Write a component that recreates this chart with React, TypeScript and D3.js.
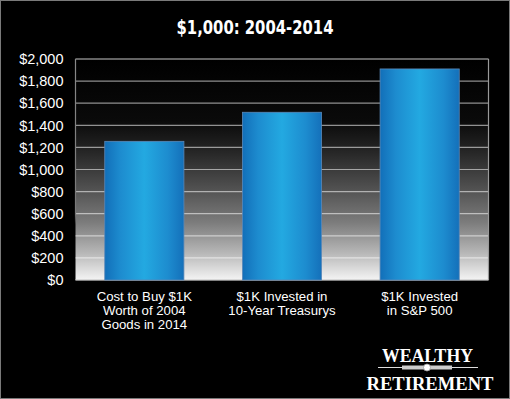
import React from "react";
import * as d3 from "d3";

const categories = [
  ["Cost to Buy $1K", "Worth of 2004", "Goods in 2014"],
  ["$1K Invested in", "10-Year Treasurys"],
  ["$1K Invested", "in S&P 500"],
];
const values = [1255, 1518, 1910];
const yTicks = [0, 200, 400, 600, 800, 1000, 1200, 1400, 1600, 1800, 2000];
const title = "$1,000: 2004-2014";

const W = 510;
const H = 399;
const M = { left: 75.5, right: 21.5, top: 59, bottom: 119 };

export default function App() {
  const x = d3
    .scaleBand<number>()
    .domain(d3.range(values.length))
    .range([M.left, W - M.right])
    .paddingInner(0.425)
    .paddingOuter(0.2125);
  const y = d3.scaleLinear().domain([0, 2000]).range([H - M.bottom, M.top]);
  const fmt = (v: number) => "$" + d3.format(",")(v);
  const pw = W - M.left - M.right;
  const ph = H - M.top - M.bottom;

  return (
    <svg
      width={W}
      height={H}
      style={{ position: "absolute", left: 0, top: 0, display: "block" }}
    >
      <defs>
        <linearGradient id="bg" x1="0" y1="0" x2="0" y2="1">
          <stop offset="0" stopColor="#000" />
          <stop offset="0.28" stopColor="#0a0a0a" />
          <stop offset="0.42" stopColor="#262626" />
          <stop offset="0.58" stopColor="#4f4f4f" />
          <stop offset="0.74" stopColor="#7c7c7c" />
          <stop offset="0.88" stopColor="#b8b8b8" />
          <stop offset="1" stopColor="#f4f4f4" />
        </linearGradient>
        <linearGradient id="bar" x1="0" y1="0" x2="1" y2="0">
          <stop offset="0" stopColor="#126fb9" />
          <stop offset="0.2" stopColor="#1d8ccf" />
          <stop offset="0.5" stopColor="#23a9e1" />
          <stop offset="0.8" stopColor="#1d8ccf" />
          <stop offset="1" stopColor="#1470ba" />
        </linearGradient>
        <linearGradient id="leftline" x1="0" y1="0" x2="0" y2="1">
          <stop offset="0" stopColor="#888" />
          <stop offset="0.7" stopColor="#777" stopOpacity="1" />
          <stop offset="0.75" stopColor="#777" stopOpacity="0" />
        </linearGradient>
      </defs>
      <rect x={0} y={0} width={W} height={H} fill="#000" />
      <rect x={0.5} y={0.5} width={W - 1} height={H - 1} fill="none" stroke="#7a7a7a" />

      <text
        x={W / 2}
        y={34}
        textAnchor="middle"
        fill="#fff"
        fontFamily="'DejaVu Sans Condensed', 'DejaVu Sans', sans-serif"
        fontWeight="bold"
        fontSize={20}
        textLength={157}
        lengthAdjust="spacingAndGlyphs"
      >
        {title}
      </text>

      <rect x={M.left} y={M.top} width={pw} height={ph} fill="url(#bg)" />

      {yTicks.map((t) => (
        <line
          key={t}
          x1={M.left}
          x2={W - M.right}
          y1={y(t)}
          y2={y(t)}
          stroke="#fff"
          strokeOpacity={0.55}
          strokeWidth={1.2}
        />
      ))}

      <line x1={M.left} x2={W - M.right} y1={y(2000)} y2={y(2000)} stroke="#808080" strokeWidth={1.2} />
      <line x1={W - M.right} x2={W - M.right} y1={y(2000)} y2={y(0)} stroke="#9a9a9a" strokeWidth={1.2} />
      <rect x={M.left - 0.6} y={y(2000)} width={1.2} height={ph} fill="url(#leftline)" />
      <line x1={M.left} x2={W - M.right} y1={y(0)} y2={y(0)} stroke="#bbb" strokeWidth={1} />

      {values.map((v, i) => (
        <rect
          key={i}
          x={x(i)}
          y={y(v)}
          width={x.bandwidth()}
          height={y(0) - y(v)}
          fill="url(#bar)"
          stroke="#5a88b8"
          strokeWidth={0.8}
        />
      ))}

      {yTicks.map((t) => (
        <text
          key={t}
          x={63.5}
          y={y(t)}
          dy="0.36em"
          textAnchor="end"
          fill="#fff"
          fontFamily="'Liberation Sans', Arial, sans-serif"
          fontSize={14.5}
        >
          {fmt(t)}
        </text>
      ))}

      {categories.map((lines, i) => (
        <text
          key={i}
          x={(x(i) as number) + x.bandwidth() / 2}
          y={y(0) + 20.5}
          textAnchor="middle"
          fill="#fff"
          fontFamily="'Liberation Sans', Arial, sans-serif"
          fontSize={13.2}
        >
          {lines.map((l, j) => (
            <tspan key={j} x={(x(i) as number) + x.bandwidth() / 2} dy={j === 0 ? 0 : 14}>
              {l}
            </tspan>
          ))}
        </text>
      ))}

      <g fill="#fff" fontFamily="'Liberation Serif', 'DejaVu Serif', serif" fontWeight="bold">
        <text x={427.5} y={361.5} textAnchor="middle" fontSize={19} textLength={91} lengthAdjust="spacingAndGlyphs">
          WEALTHY
        </text>
        <line x1={378} x2={478} y1={367.5} y2={367.5} stroke="#ddd" strokeWidth={1} />
        <rect x={402} y={365.5} width={50} height={4} fill="#ccc" />
        <circle cx={427} cy={367.5} r={3.5} fill="#fff" stroke="#999" strokeWidth={0.8} />
        <text x={430} y={389.5} textAnchor="middle" fontSize={19.5} textLength={127} lengthAdjust="spacingAndGlyphs">
          RETIREMENT
        </text>
      </g>
    </svg>
  );
}
